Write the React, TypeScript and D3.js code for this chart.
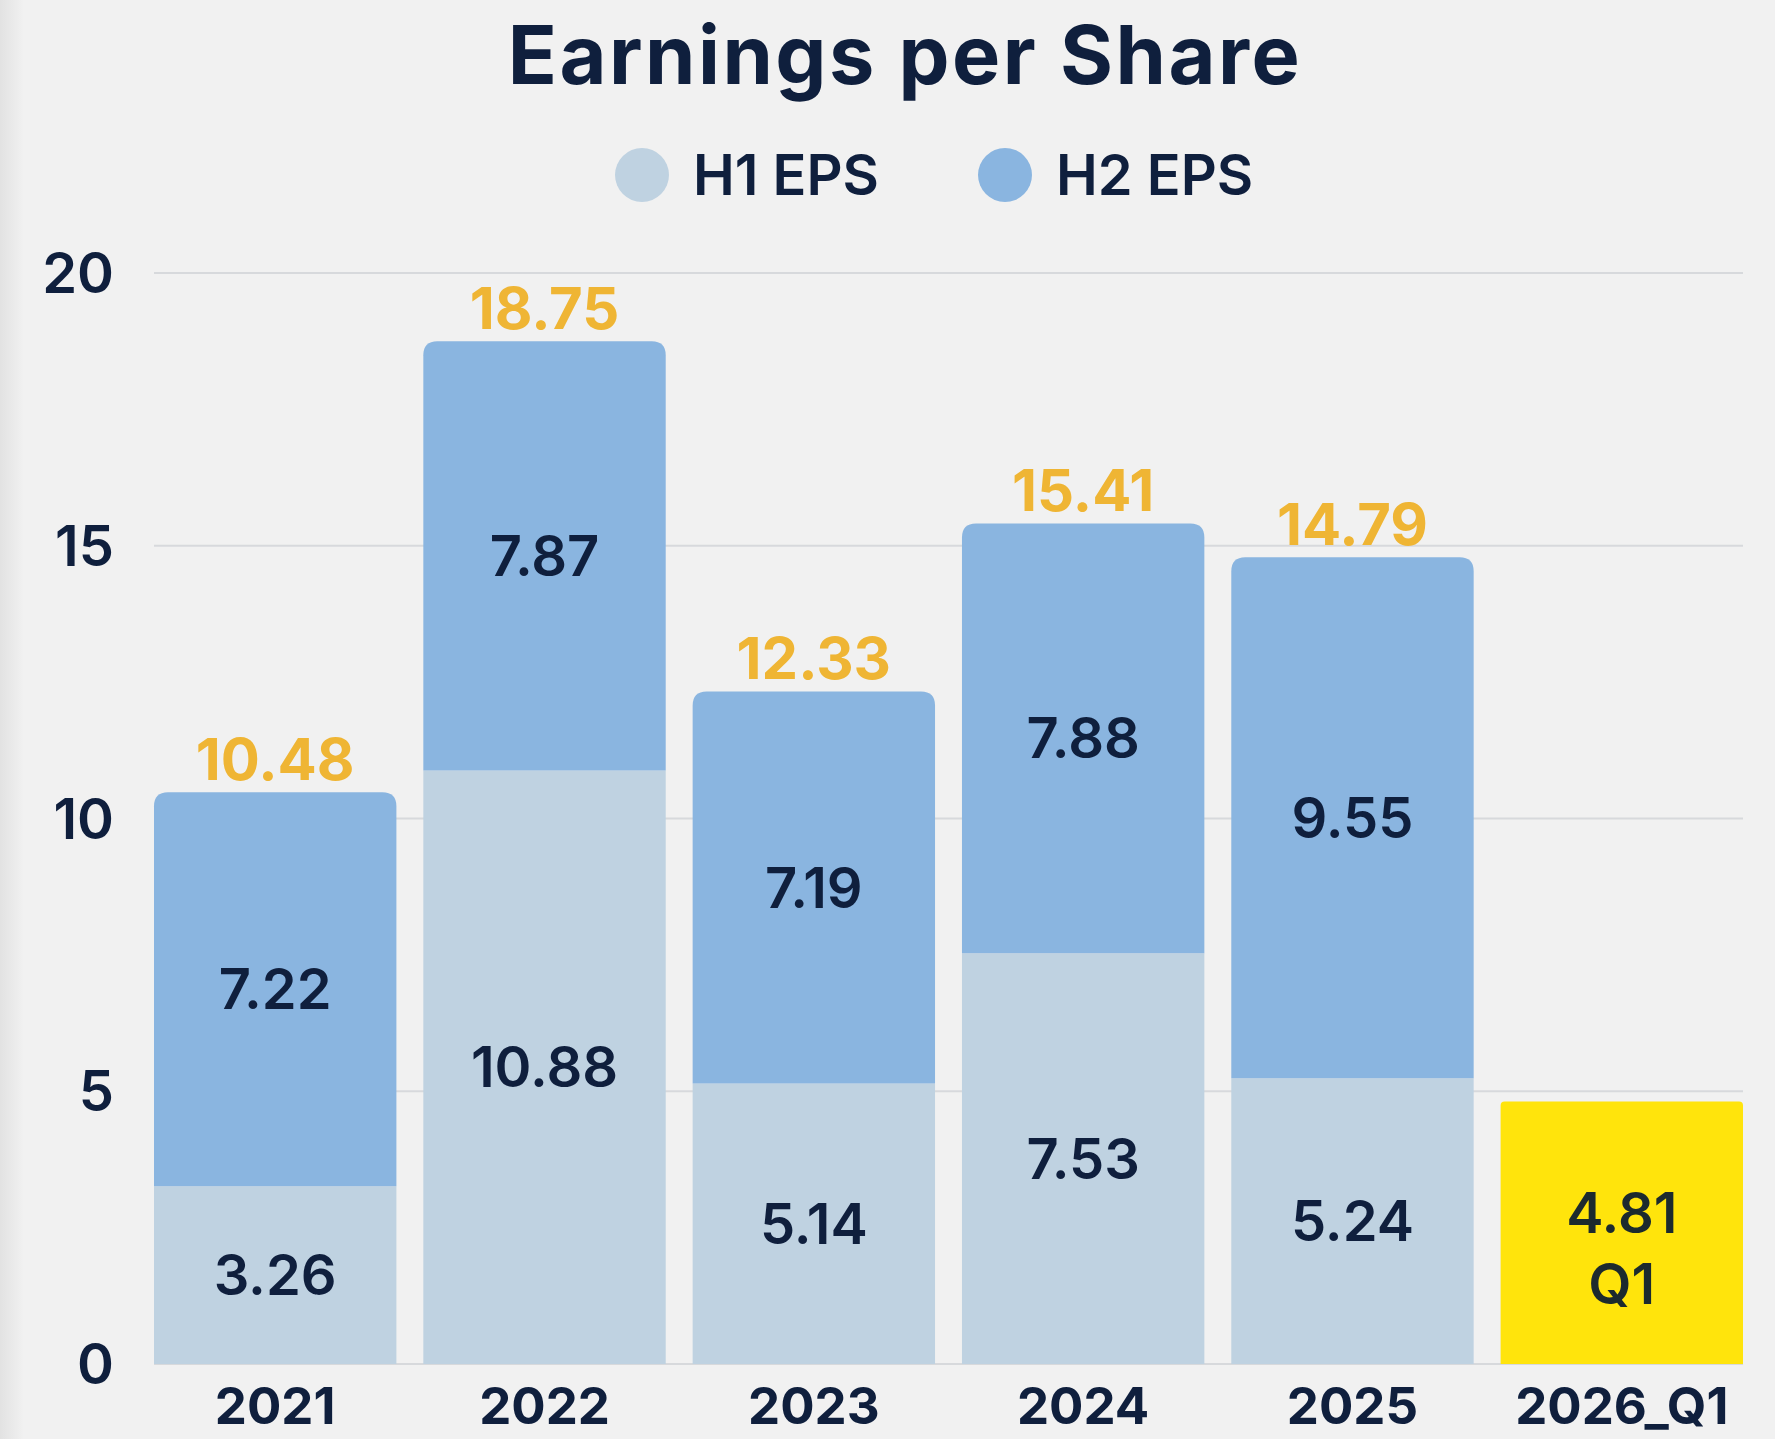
import React, { useRef, useEffect } from "react";
import * as d3 from "d3";

const years = ["2021", "2022", "2023", "2024", "2025", "2026_Q1"];
const h1Eps = [3.26, 10.88, 5.14, 7.53, 5.24];
const h2Eps = [7.22, 7.87, 7.19, 7.88, 9.55];
const q1Eps = 4.81;
const yTicks = [0, 5, 10, 15, 20];

const FONT = "Inter, 'Noto Sans', Lato, sans-serif";
const NAVY = "#0f1f3d";
const H1_COLOR = "#bfd2e1";
const H2_COLOR = "#8ab5e0";
const TOTAL_COLOR = "#efb534";
const Q1_COLOR = "#ffe40c";

export default function App() {
  const ref = useRef<SVGSVGElement>(null);

  useEffect(() => {
    const width = 1775;
    const height = 1439;
    const margin = { top: 273, right: 32, bottom: 75, left: 154 };

    const svg = d3.select(ref.current);
    svg.selectAll("*").remove();
    svg.attr("width", width).attr("height", height);

    // background with a faint shadow on the left edge
    const defs = svg.append("defs");
    const grad = defs.append("linearGradient").attr("id", "edge");
    grad.append("stop").attr("offset", "0%").attr("stop-color", "#e2e2e2");
    grad.append("stop").attr("offset", "100%").attr("stop-color", "#f1f1f1");
    svg.append("rect").attr("width", width).attr("height", height).attr("fill", "#f1f1f1");
    svg.append("rect").attr("width", 24).attr("height", height).attr("fill", "url(#edge)");

    const x = d3.scaleBand()
      .domain(years)
      .range([margin.left, width - margin.right])
      .paddingInner(0.1)
      .paddingOuter(0);

    const y = d3.scaleLinear()
      .domain([0, 20])
      .range([height - margin.bottom, margin.top]);

    // title
    svg.append("text")
      .attr("x", 905)
      .attr("y", 84)
      .attr("text-anchor", "middle")
      .attr("font-family", FONT)
      .attr("font-weight", 700)
      .attr("font-size", 81)
      .attr("letter-spacing", 2.5)
      .attr("fill", NAVY)
      .text("Earnings per Share");

    // legend
    const legend = [
      { label: "H1 EPS", color: H1_COLOR, cx: 642 },
      { label: "H2 EPS", color: H2_COLOR, cx: 1005 },
    ];
    const lg = svg.append("g");
    lg.selectAll("circle")
      .data(legend)
      .join("circle")
      .attr("cx", d => d.cx)
      .attr("cy", 175)
      .attr("r", 27)
      .attr("fill", d => d.color);
    lg.selectAll("text")
      .data(legend)
      .join("text")
      .attr("x", d => d.cx + 51)
      .attr("y", 195)
      .attr("font-family", FONT)
      .attr("font-weight", 600)
      .attr("font-size", 56)
      .attr("fill", NAVY)
      .text(d => d.label);

    // gridlines + y labels
    const grid = svg.append("g");
    grid.selectAll("line")
      .data(yTicks)
      .join("line")
      .attr("x1", margin.left)
      .attr("x2", width - margin.right)
      .attr("y1", d => y(d))
      .attr("y2", d => y(d))
      .attr("stroke", "#d7d9dc")
      .attr("stroke-width", 2);
    grid.selectAll("text")
      .data(yTicks)
      .join("text")
      .attr("x", 114)
      .attr("y", d => y(d))
      .attr("dy", "0.36em")
      .attr("text-anchor", "end")
      .attr("font-family", FONT)
      .attr("font-weight", 600)
      .attr("font-size", 56)
      .attr("fill", NAVY)
      .text(d => d);

    const data = h1Eps.map((h1, i) => ({
      year: years[i],
      h1,
      h2: h2Eps[i],
      total: +(h1 + h2Eps[i]).toFixed(2),
    }));
    const stack = d3.stack<any>().keys(["h1", "h2"])(data);
    const colors: Record<string, string> = { h1: H1_COLOR, h2: H2_COLOR };
    const bw = x.bandwidth();

    // bar path: rounded top corners only
    const barPath = (x0: number, y0: number, y1: number, r: number) => {
      const rr = Math.min(r, (y1 - y0) / 2);
      return `M${x0},${y1}V${y0 + rr}Q${x0},${y0} ${x0 + rr},${y0}H${x0 + bw - rr}Q${x0 + bw},${y0} ${x0 + bw},${y0 + rr}V${y1}Z`;
    };

    stack.forEach((layer, li) => {
      const g = svg.append("g");
      g.selectAll("path")
        .data(layer)
        .join("path")
        .attr("d", d => barPath(x(d.data.year)!, y(d[1]), y(d[0]), li === 1 ? 14 : 0))
        .attr("fill", colors[layer.key]);
      g.selectAll("text")
        .data(layer)
        .join("text")
        .attr("x", d => x(d.data.year)! + bw / 2)
        .attr("y", d => (y(d[0]) + y(d[1])) / 2)
        .attr("dy", "0.36em")
        .attr("text-anchor", "middle")
        .attr("font-family", FONT)
        .attr("font-weight", 600)
        .attr("font-size", 56)
        .attr("fill", NAVY)
        .text(d => (d[1] - d[0]).toFixed(2));
    });

    // totals
    svg.append("g")
      .selectAll("text")
      .data(data)
      .join("text")
      .attr("x", d => x(d.year)! + bw / 2)
      .attr("y", d => y(d.total) - 12)
      .attr("text-anchor", "middle")
      .attr("font-family", FONT)
      .attr("font-weight", 700)
      .attr("font-size", 58)
      .attr("fill", TOTAL_COLOR)
      .text(d => d.total.toFixed(2));

    // 2026 Q1 highlight bar
    const qx = x("2026_Q1")!;
    svg.append("path")
      .attr("d", barPath(qx, y(q1Eps), y(0), 4))
      .attr("fill", Q1_COLOR);
    const qt = svg.append("text")
      .attr("x", qx + bw / 2)
      .attr("y", (y(q1Eps) + y(0)) / 2)
      .attr("text-anchor", "middle")
      .attr("font-family", FONT)
      .attr("font-weight", 600)
      .attr("font-size", 56)
      .attr("fill", "#1c2a2e");
    qt.append("tspan").attr("x", qx + bw / 2).attr("dy", "0em").text(q1Eps.toFixed(2));
    qt.append("tspan").attr("x", qx + bw / 2).attr("dy", "1.27em").text("Q1");

    // x labels
    svg.append("g")
      .selectAll("text")
      .data(years)
      .join("text")
      .attr("x", d => x(d)! + bw / 2)
      .attr("y", 1424)
      .attr("text-anchor", "middle")
      .attr("font-family", FONT)
      .attr("font-weight", 700)
      .attr("font-size", 51)
      .attr("fill", NAVY)
      .text(d => d);
  }, []);

  return (
    <div style={{ position: "absolute", left: 0, top: 0 }}>
      <svg ref={ref} style={{ display: "block" }}></svg>
    </div>
  );
}
